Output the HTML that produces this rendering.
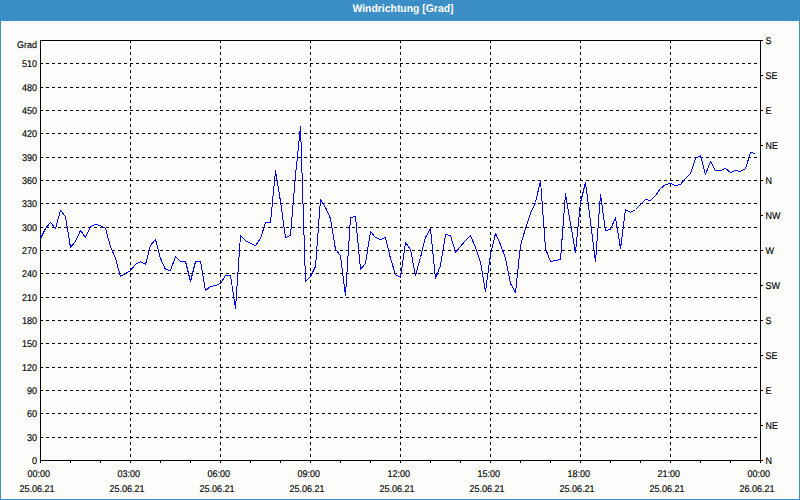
<!DOCTYPE html>
<html><head><meta charset="utf-8"><title>Windrichtung</title>
<style>
html,body{margin:0;padding:0;background:#fff;}
body{width:800px;height:500px;overflow:hidden;font-family:"Liberation Sans",sans-serif;}
#wrap{position:relative;width:800px;height:500px;background:#3b8ec6;}
#panel{position:absolute;left:1px;top:21px;width:798px;height:478px;background:#fcfdfb;}
svg{position:absolute;left:0;top:0;}
text{font-family:"Liberation Sans",sans-serif;font-size:9.8px;fill:#000;stroke:#000;stroke-width:0.15px;text-rendering:geometricPrecision;}
text.ttl{font-size:11px;font-weight:bold;fill:#fff;stroke:none;}
</style></head><body>
<div id="wrap">
<div id="panel"></div>
<svg width="800" height="500" viewBox="0 0 800 500">
<g transform="translate(403,12) scale(0.945,1)"><text class="ttl" text-anchor="middle" x="0" y="0">Windrichtung [Grad]</text></g>
<g shape-rendering="crispEdges" stroke="#000" stroke-width="1" fill="none">
<line x1="40" y1="437.5" x2="760" y2="437.5" stroke-dasharray="3 3"/>
<line x1="40" y1="413.5" x2="760" y2="413.5" stroke-dasharray="3 3"/>
<line x1="40" y1="390.5" x2="760" y2="390.5" stroke-dasharray="3 3"/>
<line x1="40" y1="367.5" x2="760" y2="367.5" stroke-dasharray="3 3"/>
<line x1="40" y1="343.5" x2="760" y2="343.5" stroke-dasharray="3 3"/>
<line x1="40" y1="320.5" x2="760" y2="320.5" stroke-dasharray="3 3"/>
<line x1="40" y1="297.5" x2="760" y2="297.5" stroke-dasharray="3 3"/>
<line x1="40" y1="273.5" x2="760" y2="273.5" stroke-dasharray="3 3"/>
<line x1="40" y1="250.5" x2="760" y2="250.5" stroke-dasharray="3 3"/>
<line x1="40" y1="227.5" x2="760" y2="227.5" stroke-dasharray="3 3"/>
<line x1="40" y1="203.5" x2="760" y2="203.5" stroke-dasharray="3 3"/>
<line x1="40" y1="180.5" x2="760" y2="180.5" stroke-dasharray="3 3"/>
<line x1="40" y1="157.5" x2="760" y2="157.5" stroke-dasharray="3 3"/>
<line x1="40" y1="133.5" x2="760" y2="133.5" stroke-dasharray="3 3"/>
<line x1="40" y1="110.5" x2="760" y2="110.5" stroke-dasharray="3 3"/>
<line x1="40" y1="87.5" x2="760" y2="87.5" stroke-dasharray="3 3"/>
<line x1="40" y1="63.5" x2="760" y2="63.5" stroke-dasharray="3 3"/>
<line x1="130.5" y1="40" x2="130.5" y2="463" stroke-dasharray="3 3"/>
<line x1="220.5" y1="40" x2="220.5" y2="463" stroke-dasharray="3 3"/>
<line x1="310.5" y1="40" x2="310.5" y2="463" stroke-dasharray="3 3"/>
<line x1="400.5" y1="40" x2="400.5" y2="463" stroke-dasharray="3 3"/>
<line x1="490.5" y1="40" x2="490.5" y2="463" stroke-dasharray="3 3"/>
<line x1="580.5" y1="40" x2="580.5" y2="463" stroke-dasharray="3 3"/>
<line x1="670.5" y1="40" x2="670.5" y2="463" stroke-dasharray="3 3"/>
<rect x="40.5" y="40.5" width="720" height="420"/>
<line x1="40.5" y1="460" x2="40.5" y2="463"/>
<line x1="70.5" y1="460" x2="70.5" y2="463"/>
<line x1="100.5" y1="460" x2="100.5" y2="463"/>
<line x1="130.5" y1="460" x2="130.5" y2="463"/>
<line x1="160.5" y1="460" x2="160.5" y2="463"/>
<line x1="190.5" y1="460" x2="190.5" y2="463"/>
<line x1="220.5" y1="460" x2="220.5" y2="463"/>
<line x1="250.5" y1="460" x2="250.5" y2="463"/>
<line x1="280.5" y1="460" x2="280.5" y2="463"/>
<line x1="310.5" y1="460" x2="310.5" y2="463"/>
<line x1="340.5" y1="460" x2="340.5" y2="463"/>
<line x1="370.5" y1="460" x2="370.5" y2="463"/>
<line x1="400.5" y1="460" x2="400.5" y2="463"/>
<line x1="430.5" y1="460" x2="430.5" y2="463"/>
<line x1="460.5" y1="460" x2="460.5" y2="463"/>
<line x1="490.5" y1="460" x2="490.5" y2="463"/>
<line x1="520.5" y1="460" x2="520.5" y2="463"/>
<line x1="550.5" y1="460" x2="550.5" y2="463"/>
<line x1="580.5" y1="460" x2="580.5" y2="463"/>
<line x1="610.5" y1="460" x2="610.5" y2="463"/>
<line x1="640.5" y1="460" x2="640.5" y2="463"/>
<line x1="670.5" y1="460" x2="670.5" y2="463"/>
<line x1="700.5" y1="460" x2="700.5" y2="463"/>
<line x1="730.5" y1="460" x2="730.5" y2="463"/>
<line x1="760.5" y1="460" x2="760.5" y2="463"/>
<line x1="760" y1="460.5" x2="763" y2="460.5"/>
<line x1="760" y1="425.5" x2="763" y2="425.5"/>
<line x1="760" y1="390.5" x2="763" y2="390.5"/>
<line x1="760" y1="355.5" x2="763" y2="355.5"/>
<line x1="760" y1="320.5" x2="763" y2="320.5"/>
<line x1="760" y1="285.5" x2="763" y2="285.5"/>
<line x1="760" y1="250.5" x2="763" y2="250.5"/>
<line x1="760" y1="215.5" x2="763" y2="215.5"/>
<line x1="760" y1="180.5" x2="763" y2="180.5"/>
<line x1="760" y1="145.5" x2="763" y2="145.5"/>
<line x1="760" y1="110.5" x2="763" y2="110.5"/>
<line x1="760" y1="75.5" x2="763" y2="75.5"/>
<line x1="760" y1="40.5" x2="763" y2="40.5"/>
</g>
<polyline shape-rendering="crispEdges" stroke-linejoin="round" fill="none" stroke="#0000ff" stroke-width="1" points="40.5,238.5 45.5,228.5 50.5,222.5 55.5,228.5 60.5,210.5 65.5,216.5 70.5,247.5 75.5,241.5 80.5,230.5 85.5,237.5 90.5,226.5 95.5,224.5 100.5,225.5 105.5,228.5 110.5,246.5 115.5,258.5 120.5,276.5 125.5,273.5 130.5,270.5 135.5,264.5 140.5,261.5 145.5,264.5 150.5,245.5 155.5,239.5 160.5,258.5 165.5,269.5 170.5,270.5 175.5,256.5 180.5,261.5 185.5,261.5 190.5,281.5 195.5,261.5 200.5,261.5 205.5,290.5 210.5,286.5 215.5,285.5 220.5,283.5 225.5,275.5 230.5,275.5 235.5,308.5 240.5,235.5 245.5,240.5 250.5,243.5 255.5,245.5 260.5,238.5 265.5,222.5 270.5,222.5 275.5,170.5 280.5,201.5 285.5,237.5 290.5,235.5 295.5,175.5 300.5,126.5 305.5,281.5 310.5,276.5 315.5,266.5 320.5,199.5 325.5,207.5 330.5,218.5 335.5,249.5 340.5,255.5 345.5,295.5 350.5,217.5 355.5,216.5 360.5,269.5 365.5,263.5 370.5,231.5 375.5,237.5 380.5,239.5 385.5,237.5 390.5,258.5 395.5,274.5 400.5,277.5 405.5,242.5 410.5,249.5 415.5,275.5 420.5,257.5 425.5,237.5 430.5,228.5 435.5,278.5 440.5,265.5 445.5,234.5 450.5,235.5 455.5,252.5 460.5,246.5 465.5,240.5 470.5,235.5 475.5,247.5 480.5,262.5 485.5,291.5 490.5,254.5 495.5,233.5 500.5,244.5 505.5,258.5 510.5,283.5 515.5,292.5 520.5,245.5 525.5,228.5 530.5,213.5 535.5,202.5 540.5,180.5 545.5,248.5 550.5,261.5 555.5,260.5 560.5,259.5 565.5,193.5 570.5,223.5 575.5,252.5 580.5,202.5 585.5,182.5 590.5,221.5 595.5,261.5 600.5,194.5 605.5,230.5 610.5,229.5 615.5,217.5 620.5,248.5 625.5,209.5 630.5,212.5 635.5,209.5 640.5,204.5 645.5,199.5 650.5,200.5 655.5,195.5 660.5,188.5 665.5,184.5 670.5,183.5 675.5,185.5 680.5,184.5 685.5,178.5 690.5,173.5 695.5,158.5 700.5,155.5 705.5,174.5 710.5,161.5 715.5,170.5 720.5,170.5 725.5,168.5 730.5,172.5 735.5,170.5 740.5,171.5 745.5,168.5 750.5,152.5 755.5,153.5"/>
<g transform="translate(37,464) scale(0.918,1)"><text text-anchor="end" x="0" y="0">0</text></g>
<g transform="translate(37,441) scale(0.918,1)"><text text-anchor="end" x="0" y="0">30</text></g>
<g transform="translate(37,417) scale(0.918,1)"><text text-anchor="end" x="0" y="0">60</text></g>
<g transform="translate(37,394) scale(0.918,1)"><text text-anchor="end" x="0" y="0">90</text></g>
<g transform="translate(37,371) scale(0.918,1)"><text text-anchor="end" x="0" y="0">120</text></g>
<g transform="translate(37,347) scale(0.918,1)"><text text-anchor="end" x="0" y="0">150</text></g>
<g transform="translate(37,324) scale(0.918,1)"><text text-anchor="end" x="0" y="0">180</text></g>
<g transform="translate(37,301) scale(0.918,1)"><text text-anchor="end" x="0" y="0">210</text></g>
<g transform="translate(37,277) scale(0.918,1)"><text text-anchor="end" x="0" y="0">240</text></g>
<g transform="translate(37,254) scale(0.918,1)"><text text-anchor="end" x="0" y="0">270</text></g>
<g transform="translate(37,231) scale(0.918,1)"><text text-anchor="end" x="0" y="0">300</text></g>
<g transform="translate(37,207) scale(0.918,1)"><text text-anchor="end" x="0" y="0">330</text></g>
<g transform="translate(37,184) scale(0.918,1)"><text text-anchor="end" x="0" y="0">360</text></g>
<g transform="translate(37,161) scale(0.918,1)"><text text-anchor="end" x="0" y="0">390</text></g>
<g transform="translate(37,137) scale(0.918,1)"><text text-anchor="end" x="0" y="0">420</text></g>
<g transform="translate(37,114) scale(0.918,1)"><text text-anchor="end" x="0" y="0">450</text></g>
<g transform="translate(37,91) scale(0.918,1)"><text text-anchor="end" x="0" y="0">480</text></g>
<g transform="translate(37,67) scale(0.918,1)"><text text-anchor="end" x="0" y="0">510</text></g>
<g transform="translate(37,48) scale(0.918,1)"><text text-anchor="end" x="0" y="0">Grad</text></g>
<g transform="translate(765.5,464) scale(0.918,1)"><text text-anchor="start" x="0" y="0">N</text></g>
<g transform="translate(765.5,429) scale(0.918,1)"><text text-anchor="start" x="0" y="0">NE</text></g>
<g transform="translate(765.5,394) scale(0.918,1)"><text text-anchor="start" x="0" y="0">E</text></g>
<g transform="translate(765.5,359) scale(0.918,1)"><text text-anchor="start" x="0" y="0">SE</text></g>
<g transform="translate(765.5,324) scale(0.918,1)"><text text-anchor="start" x="0" y="0">S</text></g>
<g transform="translate(765.5,289) scale(0.918,1)"><text text-anchor="start" x="0" y="0">SW</text></g>
<g transform="translate(765.5,254) scale(0.918,1)"><text text-anchor="start" x="0" y="0">W</text></g>
<g transform="translate(765.5,219) scale(0.918,1)"><text text-anchor="start" x="0" y="0">NW</text></g>
<g transform="translate(765.5,184) scale(0.918,1)"><text text-anchor="start" x="0" y="0">N</text></g>
<g transform="translate(765.5,149) scale(0.918,1)"><text text-anchor="start" x="0" y="0">NE</text></g>
<g transform="translate(765.5,114) scale(0.918,1)"><text text-anchor="start" x="0" y="0">E</text></g>
<g transform="translate(765.5,79) scale(0.918,1)"><text text-anchor="start" x="0" y="0">SE</text></g>
<g transform="translate(765.5,44) scale(0.918,1)"><text text-anchor="start" x="0" y="0">S</text></g>
<g transform="translate(38.7,477) scale(0.918,1)"><text text-anchor="middle" x="0" y="0">00:00</text></g>
<g transform="translate(37,492) scale(0.918,1)"><text text-anchor="middle" x="0" y="0">25.06.21</text></g>
<g transform="translate(128.7,477) scale(0.918,1)"><text text-anchor="middle" x="0" y="0">03:00</text></g>
<g transform="translate(127,492) scale(0.918,1)"><text text-anchor="middle" x="0" y="0">25.06.21</text></g>
<g transform="translate(218.7,477) scale(0.918,1)"><text text-anchor="middle" x="0" y="0">06:00</text></g>
<g transform="translate(217,492) scale(0.918,1)"><text text-anchor="middle" x="0" y="0">25.06.21</text></g>
<g transform="translate(308.7,477) scale(0.918,1)"><text text-anchor="middle" x="0" y="0">09:00</text></g>
<g transform="translate(307,492) scale(0.918,1)"><text text-anchor="middle" x="0" y="0">25.06.21</text></g>
<g transform="translate(398.7,477) scale(0.918,1)"><text text-anchor="middle" x="0" y="0">12:00</text></g>
<g transform="translate(397,492) scale(0.918,1)"><text text-anchor="middle" x="0" y="0">25.06.21</text></g>
<g transform="translate(488.7,477) scale(0.918,1)"><text text-anchor="middle" x="0" y="0">15:00</text></g>
<g transform="translate(487,492) scale(0.918,1)"><text text-anchor="middle" x="0" y="0">25.06.21</text></g>
<g transform="translate(578.7,477) scale(0.918,1)"><text text-anchor="middle" x="0" y="0">18:00</text></g>
<g transform="translate(577,492) scale(0.918,1)"><text text-anchor="middle" x="0" y="0">25.06.21</text></g>
<g transform="translate(668.7,477) scale(0.918,1)"><text text-anchor="middle" x="0" y="0">21:00</text></g>
<g transform="translate(667,492) scale(0.918,1)"><text text-anchor="middle" x="0" y="0">25.06.21</text></g>
<g transform="translate(758.7,477) scale(0.918,1)"><text text-anchor="middle" x="0" y="0">00:00</text></g>
<g transform="translate(757,492) scale(0.918,1)"><text text-anchor="middle" x="0" y="0">26.06.21</text></g>
</svg></div></body></html>
